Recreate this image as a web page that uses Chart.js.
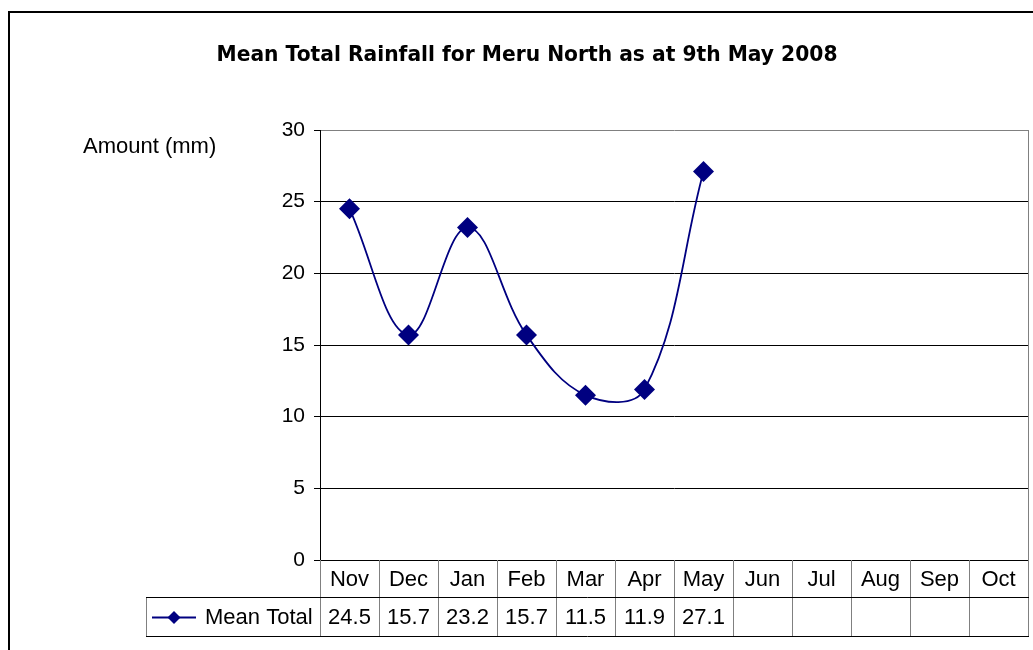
<!DOCTYPE html>
<html>
<head>
<meta charset="utf-8">
<script src="https://cdn.jsdelivr.net/npm/chart.js@4.4.0/dist/chart.umd.min.js"></script>
<style>
  html, body { margin: 0; padding: 0; background: #fff; }
  #wrap { width: 1033px; height: 650px; position: relative; }
</style>
</head>
<body>
<div id="wrap"><canvas id="rain"></canvas></div>
<script>
// chart data
const months = ['Nov', 'Dec', 'Jan', 'Feb', 'Mar', 'Apr', 'May', 'Jun', 'Jul', 'Aug', 'Sep', 'Oct'];
const meanTotal = [24.5, 15.7, 23.2, 15.7, 11.5, 11.9, 27.1];
const seriesName = 'Mean Total';
const chartTitle = 'Mean Total Rainfall for Meru North as at 9th May 2008';
const yAxisTitle = 'Amount (mm)';

const NAVY = '#000080';
const GREY = '#808080';
const FONT = '"Liberation Sans", Arial, sans-serif';

// draws the title, outer frame, axis caption and the Excel-style data table
const extrasPlugin = {
    id: 'extras',
    afterDraw(chart) {
        const ctx = chart.ctx;
        const area = chart.chartArea;
        const x = chart.scales.x;
        const colW = (area.right - area.left) / months.length;
        const row1 = area.bottom + 37;
        const row2 = row1 + 39;
        const keyLeft = 146;

        ctx.save();

        // outer frame (top and left only visible)
        ctx.strokeStyle = '#000';
        ctx.lineWidth = 2;
        ctx.beginPath();
        ctx.moveTo(9, 650);
        ctx.lineTo(9, 12);
        ctx.lineTo(1033, 12);
        ctx.stroke();

        // title
        ctx.fillStyle = '#000';
        ctx.font = 'bold 21px "DejaVu Sans", sans-serif';
        ctx.textAlign = 'center';
        ctx.textBaseline = 'middle';
        ctx.fillText(chartTitle, 527, 56, 621);

        // axis caption
        ctx.font = '22px ' + FONT;
        ctx.textAlign = 'left';
        ctx.fillText(yAxisTitle, 83, 147);

        // plot area right border
        ctx.lineWidth = 1;
        ctx.strokeStyle = GREY;
        ctx.beginPath();
        ctx.moveTo(area.right + 0.5, area.top);
        ctx.lineTo(area.right + 0.5, area.bottom);
        ctx.stroke();

        // table grid
        ctx.strokeStyle = GREY;
        ctx.beginPath();
        for (let i = 0; i <= months.length; i++) {
            const gx = Math.round(area.left + i * colW) + 0.5;
            ctx.moveTo(gx, area.bottom);
            ctx.lineTo(gx, row2);
        }
        ctx.moveTo(keyLeft + 0.5, row1);
        ctx.lineTo(keyLeft + 0.5, row2);
        ctx.stroke();

        ctx.strokeStyle = '#000';
        ctx.beginPath();
        ctx.moveTo(keyLeft, row1 + 0.5);
        ctx.lineTo(area.right + 1, row1 + 0.5);
        ctx.moveTo(keyLeft, row2 + 0.5);
        ctx.lineTo(area.right + 1, row2 + 0.5);
        ctx.stroke();

        // table text
        ctx.fillStyle = '#000';
        ctx.font = '22px ' + FONT;
        ctx.textAlign = 'center';
        ctx.textBaseline = 'middle';
        months.forEach((m, i) => {
            const cx = x.getPixelForValue(i);
            ctx.fillText(m, cx, (area.bottom + row1) / 2 + 1);
            if (meanTotal[i] !== undefined) {
                ctx.fillText(meanTotal[i].toFixed(1), cx, (row1 + row2) / 2 + 1);
            }
        });

        // legend key inside the table
        const ky = Math.round((row1 + row2) / 2) + 0.5;
        ctx.strokeStyle = NAVY;
        ctx.lineWidth = 2;
        ctx.beginPath();
        ctx.moveTo(152, ky);
        ctx.lineTo(196, ky);
        ctx.stroke();
        ctx.fillStyle = NAVY;
        ctx.beginPath();
        ctx.moveTo(174, ky - 6.5);
        ctx.lineTo(180.5, ky);
        ctx.lineTo(174, ky + 6.5);
        ctx.lineTo(167.5, ky);
        ctx.closePath();
        ctx.fill();
        ctx.fillStyle = '#000';
        ctx.textAlign = 'left';
        ctx.fillText(seriesName, 205, (row1 + row2) / 2 + 1);

        ctx.restore();
    }
};

const ctx = document.getElementById('rain').getContext('2d');
new Chart(ctx, {
    type: 'line',
    data: {
        labels: months,
        datasets: [{
            label: seriesName,
            data: meanTotal,
            borderColor: NAVY,
            backgroundColor: NAVY,
            borderWidth: 1.8,
            tension: 0.38,
            pointStyle: 'rectRot',
            pointRadius: 10.5,
            pointBorderWidth: 0,
            pointBackgroundColor: NAVY
        }]
    },
    options: {
        responsive: true,
        maintainAspectRatio: false,
        animation: false,
        layout: {
            autoPadding: false,
            padding: { top: 130, right: 5, bottom: 90, left: 0 }
        },
        scales: {
            x: {
                type: 'category',
                display: false,
                offset: true
            },
            y: {
                min: 0,
                max: 30,
                afterFit: (scale) => { scale.width = 320; },
                ticks: {
                    stepSize: 5,
                    color: '#000',
                    padding: 9,
                    font: { family: FONT, size: 21 }
                },
                border: { color: '#000', width: 1 },
                grid: {
                    color: (c) => (c.tick && c.tick.value === 30 ? GREY : '#000'),
                    tickColor: '#000',
                    tickLength: 6,
                    lineWidth: 1
                }
            }
        },
        plugins: {
            legend: { display: false },
            title: { display: false },
            tooltip: { enabled: false }
        }
    },
    plugins: [extrasPlugin]
});
</script>
</body>
</html>
